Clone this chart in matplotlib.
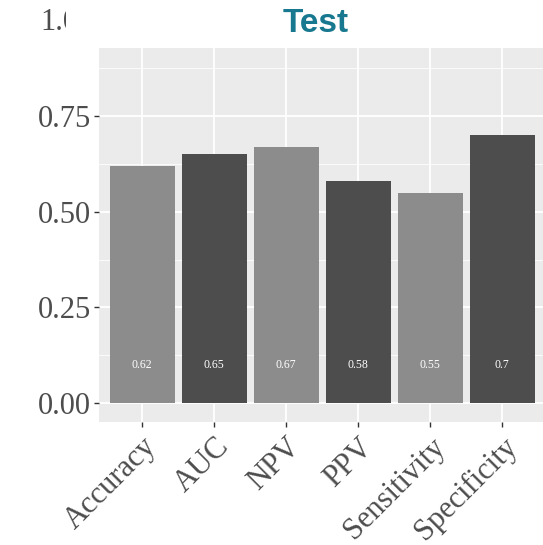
import matplotlib
matplotlib.use("Agg")
import matplotlib.pyplot as plt
from matplotlib.transforms import Bbox, blended_transform_factory
from matplotlib.ticker import FixedLocator

# Test-set performance metrics
metrics = ["Accuracy", "AUC", "NPV", "PPV", "Sensitivity", "Specificity"]
scores = [0.62, 0.65, 0.67, 0.58, 0.55, 0.70]
bar_colors = ["#8c8c8c", "#4d4d4d", "#8c8c8c", "#4d4d4d", "#8c8c8c", "#4d4d4d"]
y_ticks = [0.00, 0.25, 0.50, 0.75]
y_tick_labels = ["0.00", "0.25", "0.50", "0.75"]
y_minor = [0.125, 0.375, 0.625, 0.875]

W, H = 543, 545
fig = plt.figure(figsize=(W / 100, H / 100), dpi=100)
fig.patch.set_facecolor("white")

left, right, top, bottom = 99, 545.5, 48, 422
ax = fig.add_axes([left / W, 1 - bottom / H, (right - left) / W, (bottom - top) / H])
ax.set_facecolor("#ebebeb")
for s in ax.spines.values():
    s.set_visible(False)

x = list(range(1, len(metrics) + 1))
ax.set_xlim(0.4, 6.6)
ax.set_ylim(-0.0497, 0.928)

# grid
ax.set_axisbelow(True)
ax.yaxis.set_major_locator(FixedLocator(y_ticks))
ax.yaxis.set_minor_locator(FixedLocator(y_minor))
ax.grid(which="major", color="white", linewidth=1.3)
ax.grid(which="minor", axis="y", color="white", linewidth=0.6)

ax.bar(x, scores, width=0.9, color=bar_colors, zorder=2)
for xi, v in zip(x, scores):
    ax.text(xi, 0.1, f"{v:g}", ha="center", va="center", color="white",
            fontsize=8.5, family="Liberation Serif", zorder=3)

serif = "Liberation Serif"
ax.set_xticks(x)
ax.set_xticklabels(metrics, rotation=45, ha="right", va="top",
                   rotation_mode="anchor", family=serif, fontsize=22,
                   color="#4d4d4d")
ax.set_yticklabels(y_tick_labels, family=serif, fontsize=22, color="#4d4d4d")
ax.tick_params(axis="both", which="major", length=3.5, width=1.0,
               color="#333333", pad=2)
ax.tick_params(axis="y", which="minor", length=0)
ax.tick_params(axis="x", pad=4)

# upper tick label sitting above the panel, partly hidden
trans = blended_transform_factory(ax.transAxes, ax.transData)
top_lbl = ax.text(-5.5 / (right - left), 0.995, "1.00",
                  transform=trans, ha="right", va="center", family=serif,
                  fontsize=22, color="#4d4d4d", clip_on=True)
top_lbl.set_clip_box(Bbox.from_extents(0, 0, 66, H))

fig.text(315.5 / W, 1 - 24 / H, "Test", ha="center", va="center",
         fontsize=24, fontweight="bold", color="#17788f",
         family="Liberation Sans")

fig.savefig("out.png", dpi=100)
